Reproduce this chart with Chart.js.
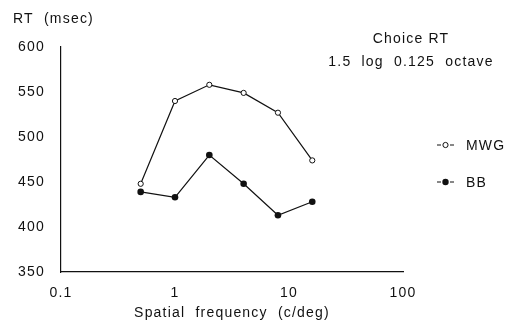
<!DOCTYPE html>
<html>
<head>
<meta charset="utf-8">
<script src="https://cdn.jsdelivr.net/npm/chart.js@4/dist/chart.umd.min.js"></script>
<style>
  html, body { margin: 0; padding: 0; background: #fff; }
  #wrap { width: 508px; height: 322px; position: relative; }
</style>
</head>
<body>
<div id="wrap"><canvas id="rtChart" width="508" height="322"></canvas></div>
<script>
const frequencies = [0.5, 1, 2, 4, 8, 16];
const mwgValues = [448, 540, 558, 549, 527, 474];
const bbValues = [439, 433, 480, 448, 413, 428];
const xTicks = [0.1, 1, 10, 100];
const yTicks = [350, 400, 450, 500, 550, 600];

const FONT = '"Liberation Sans", Arial, sans-serif';
const SPACING = '1.2px';

// the scanned figure has wide, airy lettering
const spacingPlugin = {
    id: 'spacingPlugin',
    beforeLayout(chart) { chart.ctx.letterSpacing = SPACING; },
    beforeDraw(chart) { chart.ctx.letterSpacing = SPACING; }
};

// extra text: y title, note and a small hand-drawn legend
const textPlugin = {
    id: 'textPlugin',
    afterDraw(chart) {
        const ctx = chart.ctx;
        ctx.save();
        ctx.letterSpacing = SPACING;
        ctx.fillStyle = '#111';
        ctx.font = '14px ' + FONT;
        ctx.textBaseline = 'middle';
        ctx.textAlign = 'left';
        ctx.fillText('RT  (msec)', 13, 19);
        ctx.textAlign = 'center';
        ctx.fillText('Choice RT', 411, 39);
        ctx.fillText('1.5  log  0.125  octave', 411, 62);

        const items = [
            { label: chart.data.datasets[0].label, y: 145, filled: false },
            { label: chart.data.datasets[1].label, y: 182, filled: true }
        ];
        items.forEach(function (it) {
            ctx.strokeStyle = '#111';
            ctx.lineWidth = 1;
            ctx.beginPath();
            ctx.moveTo(437, it.y); ctx.lineTo(441, it.y);
            ctx.moveTo(450, it.y); ctx.lineTo(454, it.y);
            ctx.stroke();
            ctx.beginPath();
            ctx.arc(445.5, it.y, it.filled ? 3.2 : 2.6, 0, Math.PI * 2);
            if (it.filled) { ctx.fillStyle = '#111'; ctx.fill(); }
            else { ctx.fillStyle = '#fff'; ctx.fill(); ctx.stroke(); }
            ctx.fillStyle = '#111';
            ctx.textAlign = 'left';
            ctx.fillText(it.label, 466, it.y + 1);
        });
        ctx.restore();
    }
};

const ctx = document.getElementById('rtChart').getContext('2d');
new Chart(ctx, {
    type: 'line',
    data: {
        datasets: [{
            label: 'MWG',
            data: frequencies.map((f, i) => ({ x: f, y: mwgValues[i] })),
            borderColor: '#111',
            borderWidth: 1.2,
            pointRadius: 2.6,
            pointBackgroundColor: '#fff',
            pointBorderColor: '#111',
            pointBorderWidth: 1,
            tension: 0
        }, {
            label: 'BB',
            data: frequencies.map((f, i) => ({ x: f, y: bbValues[i] })),
            borderColor: '#111',
            borderWidth: 1.2,
            pointRadius: 3.3,
            pointBackgroundColor: '#111',
            pointBorderColor: '#111',
            pointBorderWidth: 0,
            tension: 0
        }]
    },
    options: {
        responsive: false,
        animation: false,
        layout: { padding: { left: 0, right: 105, top: 47, bottom: 0 } },
        plugins: {
            legend: { display: false },
            tooltip: { enabled: false }
        },
        scales: {
            x: {
                type: 'logarithmic',
                min: 0.1,
                max: 100,
                afterBuildTicks: function (scale) {
                    scale.ticks = xTicks.map(v => ({ value: v }));
                },
                afterFit: function (scale) { scale.height = 50; },
                ticks: {
                    color: '#111',
                    font: { family: FONT, size: 14 },
                    padding: 5,
                    maxRotation: 0,
                    autoSkip: false,
                    callback: v => String(v)
                },
                grid: { display: false },
                border: { display: true, color: '#111', width: 1.2 },
                title: {
                    display: true,
                    text: 'Spatial  frequency  (c/deg)',
                    color: '#111',
                    font: { family: FONT, size: 14 },
                    padding: { top: 3, bottom: 0 }
                }
            },
            y: {
                min: 350,
                max: 600,
                afterBuildTicks: function (scale) {
                    scale.ticks = yTicks.map(v => ({ value: v }));
                },
                afterFit: function (scale) { scale.width = 61; },
                ticks: {
                    color: '#111',
                    font: { family: FONT, size: 14 },
                    padding: 8
                },
                grid: { display: false },
                border: { display: true, color: '#111', width: 1.2 }
            }
        }
    },
    plugins: [spacingPlugin, textPlugin]
});
</script>
</body>
</html>
